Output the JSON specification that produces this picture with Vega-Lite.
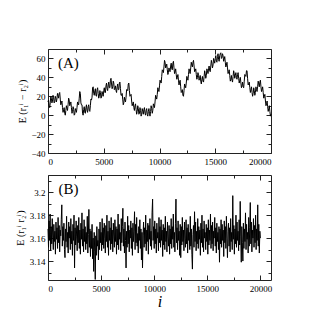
{
"$schema": "https://vega.github.io/schema/vega-lite/v6.json",
"padding": {"left": 15, "top": 48, "right": 0, "bottom": 0},
"background": "white",
"config": {
  "font": "Liberation Serif",
  "view": {"stroke": null},
  "axis": {"labelFont": "Liberation Serif", "labelFontSize": 9, "labelColor": "black", "tickColor": "#222", "domainColor": "#222", "domainWidth": 1, "tickWidth": 1, "grid": false, "titleFont": "Liberation Serif", "titleFontWeight": "normal", "titleColor": "black"}
},
"datasets": {
"a": [
{"i":0,"v":14},{"i":50,"v":16},{"i":100,"v":10},{"i":150,"v":8},{"i":200,"v":13},{"i":250,"v":20},{"i":300,"v":18},{"i":350,"v":13},{"i":400,"v":15},{"i":450,"v":21},
{"i":500,"v":19},{"i":550,"v":13},{"i":600,"v":14},{"i":650,"v":20},{"i":700,"v":18},{"i":750,"v":14},{"i":800,"v":17},{"i":850,"v":23},{"i":900,"v":21},{"i":950,"v":18},
{"i":1000,"v":23},{"i":1050,"v":24},{"i":1100,"v":17},{"i":1150,"v":11},{"i":1200,"v":13},{"i":1250,"v":15},{"i":1300,"v":8},{"i":1350,"v":3},{"i":1400,"v":6},{"i":1450,"v":8},
{"i":1500,"v":2},{"i":1550,"v":0},{"i":1600,"v":5},{"i":1650,"v":10},{"i":1700,"v":7},{"i":1750,"v":5},{"i":1800,"v":11},{"i":1850,"v":18},{"i":1900,"v":16},{"i":1950,"v":10},
{"i":2000,"v":12},{"i":2050,"v":14},{"i":2100,"v":8},{"i":2150,"v":2},{"i":2200,"v":4},{"i":2250,"v":9},{"i":2300,"v":6},{"i":2350,"v":0},{"i":2400,"v":1},{"i":2450,"v":7},
{"i":2500,"v":5},{"i":2550,"v":3},{"i":2600,"v":8},{"i":2650,"v":14},{"i":2700,"v":12},{"i":2750,"v":11},{"i":2800,"v":18},{"i":2850,"v":25},{"i":2900,"v":23},{"i":2950,"v":13},
{"i":3000,"v":11},{"i":3050,"v":11},{"i":3100,"v":2},{"i":3150,"v":0},{"i":3200,"v":6},{"i":3250,"v":9},{"i":3300,"v":3},{"i":3350,"v":2},{"i":3400,"v":8},{"i":3450,"v":11},
{"i":3500,"v":5},{"i":3550,"v":3},{"i":3600,"v":9},{"i":3650,"v":11},{"i":3700,"v":5},{"i":3750,"v":4},{"i":3800,"v":10},{"i":3850,"v":17},{"i":3900,"v":16},{"i":3950,"v":19},
{"i":4000,"v":29},{"i":4050,"v":30},{"i":4100,"v":23},{"i":4150,"v":21},{"i":4200,"v":26},{"i":4250,"v":28},{"i":4300,"v":21},{"i":4350,"v":20},{"i":4400,"v":27},{"i":4450,"v":29},
{"i":4500,"v":23},{"i":4550,"v":18},{"i":4600,"v":20},{"i":4650,"v":26},{"i":4700,"v":24},{"i":4750,"v":18},{"i":4800,"v":19},{"i":4850,"v":25},{"i":4900,"v":22},{"i":4950,"v":20},
{"i":5000,"v":26},{"i":5050,"v":29},{"i":5100,"v":24},{"i":5150,"v":24},{"i":5200,"v":31},{"i":5250,"v":34},{"i":5300,"v":28},{"i":5350,"v":26},{"i":5400,"v":32},{"i":5450,"v":35},
{"i":5500,"v":29},{"i":5550,"v":29},{"i":5600,"v":37},{"i":5650,"v":39},{"i":5700,"v":33},{"i":5750,"v":28},{"i":5800,"v":30},{"i":5850,"v":36},{"i":5900,"v":34},{"i":5950,"v":27},
{"i":6000,"v":28},{"i":6050,"v":31},{"i":6100,"v":26},{"i":6150,"v":24},{"i":6200,"v":30},{"i":6250,"v":33},{"i":6300,"v":27},{"i":6350,"v":27},{"i":6400,"v":34},{"i":6450,"v":35},
{"i":6500,"v":28},{"i":6550,"v":21},{"i":6600,"v":21},{"i":6650,"v":23},{"i":6700,"v":17},{"i":6750,"v":11},{"i":6800,"v":13},{"i":6850,"v":19},{"i":6900,"v":16},{"i":6950,"v":14},
{"i":7000,"v":19},{"i":7050,"v":27},{"i":7100,"v":27},{"i":7150,"v":26},{"i":7200,"v":33},{"i":7250,"v":34},{"i":7300,"v":26},{"i":7350,"v":20},{"i":7400,"v":21},{"i":7450,"v":22},
{"i":7500,"v":15},{"i":7550,"v":10},{"i":7600,"v":12},{"i":7650,"v":14},{"i":7700,"v":8},{"i":7750,"v":5},{"i":7800,"v":10},{"i":7850,"v":12},{"i":7900,"v":6},{"i":7950,"v":1},
{"i":8000,"v":4},{"i":8050,"v":10},{"i":8100,"v":7},{"i":8150,"v":1},{"i":8200,"v":2},{"i":8250,"v":8},{"i":8300,"v":5},{"i":8350,"v":-1},{"i":8400,"v":1},{"i":8450,"v":7},
{"i":8500,"v":4},{"i":8550,"v":1},{"i":8600,"v":6},{"i":8650,"v":8},{"i":8700,"v":2},{"i":8750,"v":0},{"i":8800,"v":5},{"i":8850,"v":7},{"i":8900,"v":1},{"i":8950,"v":-1},
{"i":9000,"v":4},{"i":9050,"v":7},{"i":9100,"v":2},{"i":9150,"v":-1},{"i":9200,"v":4},{"i":9250,"v":10},{"i":9300,"v":7},{"i":9350,"v":2},{"i":9400,"v":5},{"i":9450,"v":12},
{"i":9500,"v":10},{"i":9550,"v":8},{"i":9600,"v":14},{"i":9650,"v":21},{"i":9700,"v":19},{"i":9750,"v":17},{"i":9800,"v":22},{"i":9850,"v":29},{"i":9900,"v":27},{"i":9950,"v":25},
{"i":10000,"v":31},{"i":10050,"v":37},{"i":10100,"v":35},{"i":10150,"v":34},{"i":10200,"v":41},{"i":10250,"v":48},{"i":10300,"v":47},{"i":10350,"v":45},{"i":10400,"v":51},{"i":10450,"v":58},
{"i":10500,"v":56},{"i":10550,"v":50},{"i":10600,"v":52},{"i":10650,"v":54},{"i":10700,"v":48},{"i":10750,"v":43},{"i":10800,"v":45},{"i":10850,"v":50},{"i":10900,"v":47},{"i":10950,"v":46},
{"i":11000,"v":52},{"i":11050,"v":55},{"i":11100,"v":49},{"i":11150,"v":48},{"i":11200,"v":55},{"i":11250,"v":57},{"i":11300,"v":50},{"i":11350,"v":44},{"i":11400,"v":46},{"i":11450,"v":49},
{"i":11500,"v":43},{"i":11550,"v":38},{"i":11600,"v":40},{"i":11650,"v":43},{"i":11700,"v":37},{"i":11750,"v":32},{"i":11800,"v":35},{"i":11850,"v":37},{"i":11900,"v":30},{"i":11950,"v":24},
{"i":12000,"v":25},{"i":12050,"v":27},{"i":12100,"v":21},{"i":12150,"v":20},{"i":12200,"v":26},{"i":12250,"v":33},{"i":12300,"v":31},{"i":12350,"v":29},{"i":12400,"v":34},{"i":12450,"v":41},
{"i":12500,"v":39},{"i":12550,"v":37},{"i":12600,"v":43},{"i":12650,"v":49},{"i":12700,"v":46},{"i":12750,"v":44},{"i":12800,"v":50},{"i":12850,"v":56},{"i":12900,"v":53},{"i":12950,"v":51},
{"i":13000,"v":56},{"i":13050,"v":58},{"i":13100,"v":52},{"i":13150,"v":46},{"i":13200,"v":47},{"i":13250,"v":49},{"i":13300,"v":43},{"i":13350,"v":38},{"i":13400,"v":40},{"i":13450,"v":45},
{"i":13500,"v":42},{"i":13550,"v":37},{"i":13600,"v":39},{"i":13650,"v":42},{"i":13700,"v":36},{"i":13750,"v":33},{"i":13800,"v":38},{"i":13850,"v":41},{"i":13900,"v":36},{"i":13950,"v":35},
{"i":14000,"v":41},{"i":14050,"v":47},{"i":14100,"v":44},{"i":14150,"v":39},{"i":14200,"v":42},{"i":14250,"v":49},{"i":14300,"v":47},{"i":14350,"v":44},{"i":14400,"v":49},{"i":14450,"v":52},
{"i":14500,"v":47},{"i":14550,"v":46},{"i":14600,"v":52},{"i":14650,"v":58},{"i":14700,"v":55},{"i":14750,"v":50},{"i":14800,"v":53},{"i":14850,"v":60},{"i":14900,"v":58},{"i":14950,"v":55},
{"i":15000,"v":60},{"i":15050,"v":63},{"i":15100,"v":57},{"i":15150,"v":56},{"i":15200,"v":62},{"i":15250,"v":65},{"i":15300,"v":59},{"i":15350,"v":57},{"i":15400,"v":63},{"i":15450,"v":65},
{"i":15500,"v":66},{"i":15550,"v":60},{"i":15600,"v":61},{"i":15650,"v":65},{"i":15700,"v":63},{"i":15750,"v":57},{"i":15800,"v":59},{"i":15850,"v":62},{"i":15900,"v":56},{"i":15950,"v":51},
{"i":16000,"v":53},{"i":16050,"v":56},{"i":16100,"v":50},{"i":16150,"v":44},{"i":16200,"v":46},{"i":16250,"v":48},{"i":16300,"v":42},{"i":16350,"v":36},{"i":16400,"v":38},{"i":16450,"v":42},
{"i":16500,"v":37},{"i":16550,"v":35},{"i":16600,"v":41},{"i":16650,"v":47},{"i":16700,"v":44},{"i":16750,"v":39},{"i":16800,"v":42},{"i":16850,"v":45},{"i":16900,"v":40},{"i":16950,"v":38},
{"i":17000,"v":43},{"i":17050,"v":45},{"i":17100,"v":39},{"i":17150,"v":34},{"i":17200,"v":37},{"i":17250,"v":40},{"i":17300,"v":34},{"i":17350,"v":29},{"i":17400,"v":31},{"i":17450,"v":35},
{"i":17500,"v":30},{"i":17550,"v":29},{"i":17600,"v":36},{"i":17650,"v":43},{"i":17700,"v":42},{"i":17750,"v":41},{"i":17800,"v":47},{"i":17850,"v":47},{"i":17900,"v":39},{"i":17950,"v":32},
{"i":18000,"v":33},{"i":18050,"v":35},{"i":18100,"v":29},{"i":18150,"v":24},{"i":18200,"v":27},{"i":18250,"v":30},{"i":18300,"v":24},{"i":18350,"v":20},{"i":18400,"v":23},{"i":18450,"v":29},
{"i":18500,"v":26},{"i":18550,"v":21},{"i":18600,"v":24},{"i":18650,"v":30},{"i":18700,"v":27},{"i":18750,"v":25},{"i":18800,"v":30},{"i":18850,"v":36},{"i":18900,"v":33},{"i":18950,"v":30},
{"i":19000,"v":35},{"i":19050,"v":37},{"i":19100,"v":30},{"i":19150,"v":25},{"i":19200,"v":27},{"i":19250,"v":30},{"i":19300,"v":24},{"i":19350,"v":18},{"i":19400,"v":20},{"i":19450,"v":22},
{"i":19500,"v":15},{"i":19550,"v":10},{"i":19600,"v":12},{"i":19650,"v":15},{"i":19700,"v":9},{"i":19750,"v":4},{"i":19800,"v":7},{"i":19850,"v":10},{"i":19900,"v":4},{"i":19950,"v":-1},
{"i":20000,"v":1}
],
"b": [
{"i":0,"v":3.168},{"i":50,"v":3.152},{"i":100,"v":3.175},{"i":150,"v":3.158},{"i":200,"v":3.181},{"i":250,"v":3.149},{"i":300,"v":3.170},{"i":350,"v":3.155},{"i":400,"v":3.177},{"i":450,"v":3.160},
{"i":500,"v":3.150},{"i":550,"v":3.172},{"i":600,"v":3.157},{"i":650,"v":3.166},{"i":700,"v":3.146},{"i":750,"v":3.174},{"i":800,"v":3.159},{"i":850,"v":3.169},{"i":900,"v":3.151},{"i":950,"v":3.178},
{"i":1000,"v":3.156},{"i":1050,"v":3.171},{"i":1100,"v":3.148},{"i":1150,"v":3.167},{"i":1200,"v":3.162},{"i":1250,"v":3.176},{"i":1300,"v":3.189},{"i":1350,"v":3.153},{"i":1400,"v":3.170},{"i":1450,"v":3.158},
{"i":1500,"v":3.173},{"i":1550,"v":3.150},{"i":1600,"v":3.143},{"i":1650,"v":3.168},{"i":1700,"v":3.157},{"i":1750,"v":3.179},{"i":1800,"v":3.152},{"i":1850,"v":3.165},{"i":1900,"v":3.147},{"i":1950,"v":3.174},
{"i":2000,"v":3.160},{"i":2050,"v":3.170},{"i":2100,"v":3.150},{"i":2150,"v":3.177},{"i":2200,"v":3.155},{"i":2250,"v":3.166},{"i":2300,"v":3.145},{"i":2350,"v":3.172},{"i":2400,"v":3.158},{"i":2450,"v":3.180},
{"i":2500,"v":3.134},{"i":2550,"v":3.169},{"i":2600,"v":3.154},{"i":2650,"v":3.175},{"i":2700,"v":3.161},{"i":2750,"v":3.149},{"i":2800,"v":3.171},{"i":2850,"v":3.156},{"i":2900,"v":3.178},{"i":2950,"v":3.151},
{"i":3000,"v":3.167},{"i":3050,"v":3.146},{"i":3100,"v":3.173},{"i":3150,"v":3.159},{"i":3200,"v":3.182},{"i":3250,"v":3.153},{"i":3300,"v":3.168},{"i":3350,"v":3.148},{"i":3400,"v":3.176},{"i":3450,"v":3.157},
{"i":3500,"v":3.170},{"i":3550,"v":3.150},{"i":3600,"v":3.165},{"i":3650,"v":3.155},{"i":3700,"v":3.179},{"i":3750,"v":3.147},{"i":3800,"v":3.163},{"i":3850,"v":3.185},{"i":3900,"v":3.152},{"i":3950,"v":3.168},
{"i":4000,"v":3.144},{"i":4050,"v":3.166},{"i":4100,"v":3.151},{"i":4150,"v":3.172},{"i":4200,"v":3.142},{"i":4250,"v":3.160},{"i":4300,"v":3.131},{"i":4350,"v":3.165},{"i":4400,"v":3.148},{"i":4450,"v":3.124},
{"i":4500,"v":3.162},{"i":4550,"v":3.145},{"i":4600,"v":3.170},{"i":4650,"v":3.153},{"i":4700,"v":3.158},{"i":4750,"v":3.141},{"i":4800,"v":3.168},{"i":4850,"v":3.150},{"i":4900,"v":3.174},{"i":4950,"v":3.156},
{"i":5000,"v":3.165},{"i":5050,"v":3.149},{"i":5100,"v":3.177},{"i":5150,"v":3.154},{"i":5200,"v":3.169},{"i":5250,"v":3.151},{"i":5300,"v":3.173},{"i":5350,"v":3.160},{"i":5400,"v":3.147},{"i":5450,"v":3.171},
{"i":5500,"v":3.157},{"i":5550,"v":3.180},{"i":5600,"v":3.152},{"i":5650,"v":3.166},{"i":5700,"v":3.145},{"i":5750,"v":3.175},{"i":5800,"v":3.158},{"i":5850,"v":3.169},{"i":5900,"v":3.150},{"i":5950,"v":3.178},
{"i":6000,"v":3.155},{"i":6050,"v":3.167},{"i":6100,"v":3.148},{"i":6150,"v":3.173},{"i":6200,"v":3.161},{"i":6250,"v":3.152},{"i":6300,"v":3.176},{"i":6350,"v":3.157},{"i":6400,"v":3.170},{"i":6450,"v":3.146},
{"i":6500,"v":3.168},{"i":6550,"v":3.154},{"i":6600,"v":3.181},{"i":6650,"v":3.150},{"i":6700,"v":3.172},{"i":6750,"v":3.159},{"i":6800,"v":3.165},{"i":6850,"v":3.149},{"i":6900,"v":3.177},{"i":6950,"v":3.156},
{"i":7000,"v":3.170},{"i":7050,"v":3.186},{"i":7100,"v":3.153},{"i":7150,"v":3.168},{"i":7200,"v":3.147},{"i":7250,"v":3.174},{"i":7300,"v":3.158},{"i":7350,"v":3.134},{"i":7400,"v":3.166},{"i":7450,"v":3.152},
{"i":7500,"v":3.179},{"i":7550,"v":3.155},{"i":7600,"v":3.171},{"i":7650,"v":3.148},{"i":7700,"v":3.167},{"i":7750,"v":3.160},{"i":7800,"v":3.175},{"i":7850,"v":3.151},{"i":7900,"v":3.169},{"i":7950,"v":3.145},
{"i":8000,"v":3.173},{"i":8050,"v":3.157},{"i":8100,"v":3.166},{"i":8150,"v":3.183},{"i":8200,"v":3.150},{"i":8250,"v":3.172},{"i":8300,"v":3.156},{"i":8350,"v":3.178},{"i":8400,"v":3.153},{"i":8450,"v":3.164},
{"i":8500,"v":3.147},{"i":8550,"v":3.170},{"i":8600,"v":3.158},{"i":8650,"v":3.176},{"i":8700,"v":3.151},{"i":8750,"v":3.168},{"i":8800,"v":3.141},{"i":8850,"v":3.165},{"i":8900,"v":3.134},{"i":8950,"v":3.162},
{"i":9000,"v":3.174},{"i":9050,"v":3.152},{"i":9100,"v":3.169},{"i":9150,"v":3.155},{"i":9200,"v":3.180},{"i":9250,"v":3.149},{"i":9300,"v":3.167},{"i":9350,"v":3.157},{"i":9400,"v":3.173},{"i":9450,"v":3.146},
{"i":9500,"v":3.171},{"i":9550,"v":3.159},{"i":9600,"v":3.177},{"i":9650,"v":3.153},{"i":9700,"v":3.166},{"i":9750,"v":3.150},{"i":9800,"v":3.182},{"i":9850,"v":3.194},{"i":9900,"v":3.158},{"i":9950,"v":3.170},
{"i":10000,"v":3.151},{"i":10050,"v":3.175},{"i":10100,"v":3.155},{"i":10150,"v":3.168},{"i":10200,"v":3.147},{"i":10250,"v":3.173},{"i":10300,"v":3.160},{"i":10350,"v":3.165},{"i":10400,"v":3.149},{"i":10450,"v":3.178},
{"i":10500,"v":3.156},{"i":10550,"v":3.170},{"i":10600,"v":3.152},{"i":10650,"v":3.176},{"i":10700,"v":3.158},{"i":10750,"v":3.167},{"i":10800,"v":3.144},{"i":10850,"v":3.172},{"i":10900,"v":3.154},{"i":10950,"v":3.169},
{"i":11000,"v":3.150},{"i":11050,"v":3.179},{"i":11100,"v":3.157},{"i":11150,"v":3.166},{"i":11200,"v":3.148},{"i":11250,"v":3.174},{"i":11300,"v":3.161},{"i":11350,"v":3.153},{"i":11400,"v":3.171},{"i":11450,"v":3.146},
{"i":11500,"v":3.168},{"i":11550,"v":3.155},{"i":11600,"v":3.177},{"i":11650,"v":3.151},{"i":11700,"v":3.170},{"i":11750,"v":3.159},{"i":11800,"v":3.181},{"i":11850,"v":3.152},{"i":11900,"v":3.165},{"i":11950,"v":3.148},
{"i":12000,"v":3.173},{"i":12050,"v":3.194},{"i":12100,"v":3.156},{"i":12150,"v":3.169},{"i":12200,"v":3.150},{"i":12250,"v":3.175},{"i":12300,"v":3.158},{"i":12350,"v":3.166},{"i":12400,"v":3.145},{"i":12450,"v":3.172},
{"i":12500,"v":3.143},{"i":12550,"v":3.170},{"i":12600,"v":3.154},{"i":12650,"v":3.178},{"i":12700,"v":3.157},{"i":12750,"v":3.167},{"i":12800,"v":3.149},{"i":12850,"v":3.174},{"i":12900,"v":3.160},{"i":12950,"v":3.152},
{"i":13000,"v":3.176},{"i":13050,"v":3.155},{"i":13100,"v":3.169},{"i":13150,"v":3.147},{"i":13200,"v":3.172},{"i":13250,"v":3.158},{"i":13300,"v":3.165},{"i":13350,"v":3.150},{"i":13400,"v":3.179},{"i":13450,"v":3.153},
{"i":13500,"v":3.168},{"i":13550,"v":3.146},{"i":13600,"v":3.133},{"i":13650,"v":3.163},{"i":13700,"v":3.171},{"i":13750,"v":3.152},{"i":13800,"v":3.183},{"i":13850,"v":3.157},{"i":13900,"v":3.174},{"i":13950,"v":3.149},
{"i":14000,"v":3.166},{"i":14050,"v":3.155},{"i":14100,"v":3.177},{"i":14150,"v":3.151},{"i":14200,"v":3.170},{"i":14250,"v":3.159},{"i":14300,"v":3.167},{"i":14350,"v":3.145},{"i":14400,"v":3.173},{"i":14450,"v":3.156},
{"i":14500,"v":3.180},{"i":14550,"v":3.152},{"i":14600,"v":3.168},{"i":14650,"v":3.148},{"i":14700,"v":3.175},{"i":14750,"v":3.160},{"i":14800,"v":3.165},{"i":14850,"v":3.150},{"i":14900,"v":3.172},{"i":14950,"v":3.157},
{"i":15000,"v":3.169},{"i":15050,"v":3.146},{"i":15100,"v":3.176},{"i":15150,"v":3.154},{"i":15200,"v":3.167},{"i":15250,"v":3.158},{"i":15300,"v":3.181},{"i":15350,"v":3.151},{"i":15400,"v":3.171},{"i":15450,"v":3.155},
{"i":15500,"v":3.174},{"i":15550,"v":3.149},{"i":15600,"v":3.166},{"i":15650,"v":3.160},{"i":15700,"v":3.178},{"i":15750,"v":3.153},{"i":15800,"v":3.169},{"i":15850,"v":3.147},{"i":15900,"v":3.173},{"i":15950,"v":3.157},
{"i":16000,"v":3.165},{"i":16050,"v":3.150},{"i":16100,"v":3.170},{"i":16150,"v":3.139},{"i":16200,"v":3.168},{"i":16250,"v":3.155},{"i":16300,"v":3.176},{"i":16350,"v":3.152},{"i":16400,"v":3.172},{"i":16450,"v":3.158},
{"i":16500,"v":3.167},{"i":16550,"v":3.144},{"i":16600,"v":3.175},{"i":16650,"v":3.156},{"i":16700,"v":3.170},{"i":16750,"v":3.151},{"i":16800,"v":3.179},{"i":16850,"v":3.160},{"i":16900,"v":3.143},{"i":16950,"v":3.166},
{"i":17000,"v":3.173},{"i":17050,"v":3.153},{"i":17100,"v":3.169},{"i":17150,"v":3.148},{"i":17200,"v":3.177},{"i":17250,"v":3.157},{"i":17300,"v":3.165},{"i":17350,"v":3.150},{"i":17400,"v":3.197},{"i":17450,"v":3.159},
{"i":17500,"v":3.171},{"i":17550,"v":3.146},{"i":17600,"v":3.168},{"i":17650,"v":3.155},{"i":17700,"v":3.180},{"i":17750,"v":3.152},{"i":17800,"v":3.174},{"i":17850,"v":3.158},{"i":17900,"v":3.166},{"i":17950,"v":3.149},
{"i":18000,"v":3.176},{"i":18050,"v":3.154},{"i":18100,"v":3.192},{"i":18150,"v":3.161},{"i":18200,"v":3.139},{"i":18250,"v":3.170},{"i":18300,"v":3.156},{"i":18350,"v":3.140},{"i":18400,"v":3.173},{"i":18450,"v":3.151},
{"i":18500,"v":3.168},{"i":18550,"v":3.157},{"i":18600,"v":3.182},{"i":18650,"v":3.150},{"i":18700,"v":3.172},{"i":18750,"v":3.159},{"i":18800,"v":3.165},{"i":18850,"v":3.147},{"i":18900,"v":3.178},{"i":18950,"v":3.153},
{"i":19000,"v":3.169},{"i":19050,"v":3.191},{"i":19100,"v":3.155},{"i":19150,"v":3.174},{"i":19200,"v":3.148},{"i":19250,"v":3.167},{"i":19300,"v":3.160},{"i":19350,"v":3.177},{"i":19400,"v":3.152},{"i":19450,"v":3.171},
{"i":19500,"v":3.156},{"i":19550,"v":3.180},{"i":19600,"v":3.150},{"i":19650,"v":3.168},{"i":19700,"v":3.158},{"i":19750,"v":3.189},{"i":19800,"v":3.153},{"i":19850,"v":3.172},{"i":19900,"v":3.147},{"i":19950,"v":3.166},
{"i":20000,"v":3.160}
],
"la": [{"t": "(A)", "i": 900, "v": 55}],
"lb": [{"t": "(B)", "i": 1000, "v": 3.2025}]
},
"bounds": "flush",
"spacing": 22,
"vconcat": [
{
  "width": 223, "height": 104,
  "resolve": {"axis": {"x": "independent", "y": "independent"}},
  "layer": [
    {"data": {"name": "a"}, "mark": {"type": "line", "color": "black", "strokeWidth": 1},
     "encoding": {
       "x": {"field": "i", "type": "quantitative", "scale": {"domain": [0, 20000], "nice": false}, "axis": {"orient": "bottom", "values": [0, 5000, 10000, 15000, 20000], "format": "d", "title": null, "tickSize": -5, "labelPadding": 9}},
       "y": {"field": "v", "type": "quantitative", "scale": {"domain": [-40, 70], "nice": false, "zero": false}, "axis": {"orient": "left", "values": [-40, -20, 0, 20, 40, 60], "format": "d", "title": "E (r₁ⁱ − r₂ⁱ)", "titleFontSize": 10, "titlePadding": 3, "tickSize": -5, "labelPadding": 8}}
     }},
    {"data": {"name": "la"}, "mark": {"type": "point", "opacity": 0},
     "encoding": {
       "x": {"field": "i", "type": "quantitative", "scale": {"domain": [0, 20000], "nice": false}, "axis": {"orient": "bottom", "values": [2500, 7500, 12500, 17500], "labels": false, "domain": false, "title": null, "tickSize": -3}},
       "y": {"field": "v", "type": "quantitative", "scale": {"domain": [-40, 70], "nice": false, "zero": false}, "axis": {"orient": "left", "values": [-30, -10, 10, 30, 50], "labels": false, "domain": false, "title": null, "tickSize": -3}}
     }},
    {"data": {"name": "la"}, "mark": {"type": "point", "opacity": 0},
     "encoding": {
       "x": {"field": "i", "type": "quantitative", "scale": {"domain": [0, 20000], "nice": false}, "axis": {"orient": "top", "values": [0, 5000, 10000, 15000, 20000], "labels": false, "title": null, "tickSize": -5}},
       "y": {"field": "v", "type": "quantitative", "scale": {"domain": [-40, 70], "nice": false, "zero": false}, "axis": {"orient": "right", "values": [-40, -20, 0, 20, 40, 60], "labels": false, "title": null, "tickSize": -5}}
     }},
    {"data": {"name": "la"}, "mark": {"type": "point", "opacity": 0},
     "encoding": {
       "x": {"field": "i", "type": "quantitative", "scale": {"domain": [0, 20000], "nice": false}, "axis": {"orient": "top", "values": [2500, 7500, 12500, 17500], "labels": false, "domain": false, "title": null, "tickSize": -3}},
       "y": {"field": "v", "type": "quantitative", "scale": {"domain": [-40, 70], "nice": false, "zero": false}, "axis": {"orient": "right", "values": [-30, -10, 10, 30, 50], "labels": false, "domain": false, "title": null, "tickSize": -3}}
     }},
    {"data": {"name": "la"}, "mark": {"type": "text", "align": "left", "baseline": "middle", "fontSize": 15, "font": "Liberation Serif", "color": "black"},
     "encoding": {
       "x": {"field": "i", "type": "quantitative", "scale": {"domain": [0, 20000], "nice": false}, "axis": null},
       "y": {"field": "v", "type": "quantitative", "scale": {"domain": [-40, 70], "nice": false, "zero": false}, "axis": null},
       "text": {"field": "t"}
     }}
  ]
},
{
  "width": 223, "height": 105,
  "resolve": {"axis": {"x": "independent", "y": "independent"}},
  "layer": [
    {"data": {"name": "b"}, "mark": {"type": "line", "color": "black", "strokeWidth": 1},
     "encoding": {
       "x": {"field": "i", "type": "quantitative", "scale": {"domain": [0, 21000], "nice": false}, "axis": {"orient": "bottom", "values": [0, 5000, 10000, 15000, 20000], "format": "d", "title": "i", "titleFontSize": 16, "titleFontStyle": "italic", "titlePadding": 0, "tickSize": -5, "labelPadding": 9}},
       "y": {"field": "v", "type": "quantitative", "scale": {"domain": [3.1235, 3.215], "nice": false, "zero": false}, "axis": {"orient": "left", "values": [3.14, 3.16, 3.18, 3.2], "format": "~g", "title": "E (r₁ⁱ r₂ⁱ)", "titleFontSize": 10, "titlePadding": 4, "tickSize": -5, "labelPadding": 8}}
     }},
    {"data": {"name": "lb"}, "mark": {"type": "point", "opacity": 0},
     "encoding": {
       "x": {"field": "i", "type": "quantitative", "scale": {"domain": [0, 21000], "nice": false}, "axis": {"orient": "bottom", "values": [2500, 7500, 12500, 17500], "labels": false, "domain": false, "title": null, "tickSize": -3}},
       "y": {"field": "v", "type": "quantitative", "scale": {"domain": [3.1235, 3.215], "nice": false, "zero": false}, "axis": {"orient": "left", "values": [3.13, 3.15, 3.17, 3.19, 3.21], "labels": false, "domain": false, "title": null, "tickSize": -3}}
     }},
    {"data": {"name": "lb"}, "mark": {"type": "point", "opacity": 0},
     "encoding": {
       "x": {"field": "i", "type": "quantitative", "scale": {"domain": [0, 21000], "nice": false}, "axis": {"orient": "top", "values": [0, 5000, 10000, 15000, 20000], "labels": false, "title": null, "tickSize": -5}},
       "y": {"field": "v", "type": "quantitative", "scale": {"domain": [3.1235, 3.215], "nice": false, "zero": false}, "axis": {"orient": "right", "values": [3.14, 3.16, 3.18, 3.2], "labels": false, "title": null, "tickSize": -5}}
     }},
    {"data": {"name": "lb"}, "mark": {"type": "point", "opacity": 0},
     "encoding": {
       "x": {"field": "i", "type": "quantitative", "scale": {"domain": [0, 21000], "nice": false}, "axis": {"orient": "top", "values": [2500, 7500, 12500, 17500], "labels": false, "domain": false, "title": null, "tickSize": -3}},
       "y": {"field": "v", "type": "quantitative", "scale": {"domain": [3.1235, 3.215], "nice": false, "zero": false}, "axis": {"orient": "right", "values": [3.13, 3.15, 3.17, 3.19, 3.21], "labels": false, "domain": false, "title": null, "tickSize": -3}}
     }},
    {"data": {"name": "lb"}, "mark": {"type": "text", "align": "left", "baseline": "middle", "fontSize": 15, "font": "Liberation Serif", "color": "black"},
     "encoding": {
       "x": {"field": "i", "type": "quantitative", "scale": {"domain": [0, 21000], "nice": false}, "axis": null},
       "y": {"field": "v", "type": "quantitative", "scale": {"domain": [3.1235, 3.215], "nice": false, "zero": false}, "axis": null},
       "text": {"field": "t"}
     }}
  ]
}
]
}
